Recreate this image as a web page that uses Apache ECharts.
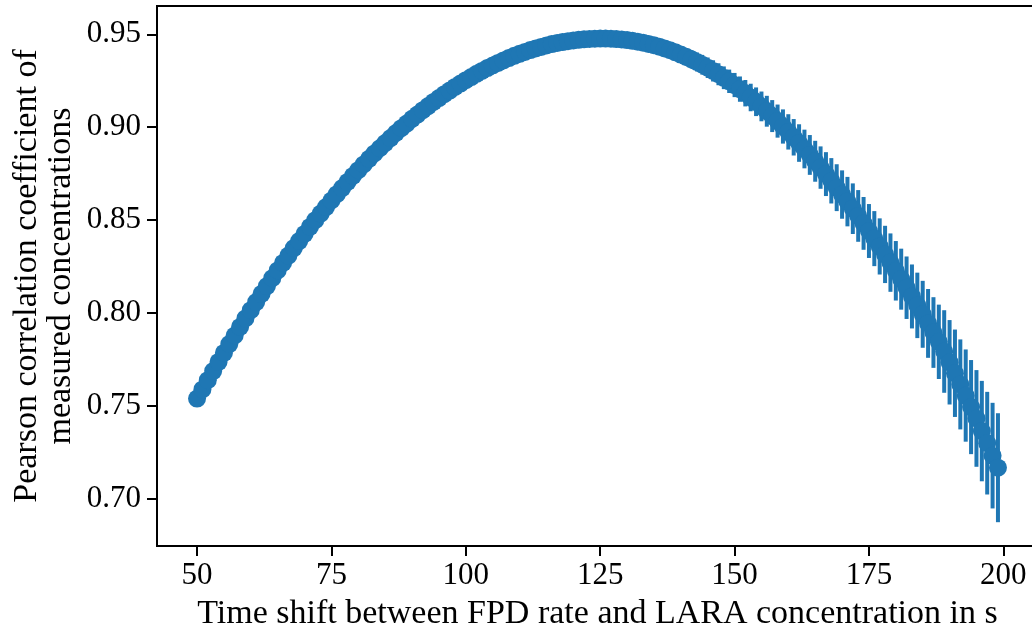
<!DOCTYPE html>
<html>
<head>
<meta charset="utf-8">
<script src="https://cdn.jsdelivr.net/npm/echarts@6/dist/echarts.min.js"></script>
<style>
html,body{margin:0;padding:0;background:#fff;}
#chart{width:1032px;height:632px;}
</style>
</head>
<body>
<div id="chart"></div>
<script>
// Time shift in s
const timeShift = [
 50,51,52,53,54,55,56,57,58,59,60,61,62,63,64,65,66,67,68,69,
 70,71,72,73,74,75,76,77,78,79,80,81,82,83,84,85,86,87,88,89,
 90,91,92,93,94,95,96,97,98,99,100,101,102,103,104,105,106,107,108,109,
 110,111,112,113,114,115,116,117,118,119,120,121,122,123,124,125,126,127,128,129,
 130,131,132,133,134,135,136,137,138,139,140,141,142,143,144,145,146,147,148,149,
 150,151,152,153,154,155,156,157,158,159,160,161,162,163,164,165,166,167,168,169,
 170,171,172,173,174,175,176,177,178,179,180,181,182,183,184,185,186,187,188,189,
 190,191,192,193,194,195,196,197,198,199
];
// Pearson correlation coefficient
const pearson = [
 0.7541,0.7590,0.7640,0.7689,0.7738,0.7786,0.7834,0.7880,0.7926,0.7972,
 0.8016,0.8060,0.8104,0.8146,0.8188,0.8230,0.8270,0.8310,0.8350,0.8388,
 0.8426,0.8464,0.8500,0.8536,0.8571,0.8606,0.8640,0.8673,0.8706,0.8738,
 0.8769,0.8800,0.8830,0.8859,0.8887,0.8915,0.8942,0.8969,0.8995,0.9020,
 0.9045,0.9068,0.9092,0.9114,0.9136,0.9157,0.9178,0.9197,0.9217,0.9235,
 0.9253,0.9270,0.9287,0.9303,0.9318,0.9332,0.9346,0.9359,0.9372,0.9384,
 0.9395,0.9405,0.9415,0.9424,0.9432,0.9440,0.9447,0.9453,0.9458,0.9463,
 0.9467,0.9470,0.9473,0.9475,0.9476,0.9477,0.9477,0.9476,0.9474,0.9472,
 0.9469,0.9465,0.9460,0.9455,0.9448,0.9441,0.9433,0.9424,0.9414,0.9403,
 0.9391,0.9379,0.9365,0.9351,0.9336,0.9320,0.9303,0.9285,0.9266,0.9247,
 0.9227,0.9205,0.9183,0.9160,0.9137,0.9112,0.9086,0.9060,0.9033,0.9004,
 0.8975,0.8946,0.8915,0.8883,0.8851,0.8817,0.8783,0.8748,0.8712,0.8675,
 0.8638,0.8600,0.8562,0.8523,0.8483,0.8442,0.8401,0.8359,0.8316,0.8272,
 0.8228,0.8183,0.8137,0.8090,0.8042,0.7994,0.7945,0.7896,0.7846,0.7794,
 0.7736,0.7677,0.7617,0.7557,0.7495,0.7434,0.7366,0.7301,0.7234,0.7169
];
// Uncertainty of the coefficient
const pearsonErr = [
 0.0015,0.0015,0.0015,0.0015,0.0015,0.0015,0.0015,0.0015,0.0015,0.0015,
 0.0015,0.0015,0.0015,0.0015,0.0015,0.0015,0.0015,0.0015,0.0015,0.0015,
 0.0018,0.0018,0.0018,0.0018,0.0018,0.0018,0.0018,0.0018,0.0018,0.0018,
 0.0018,0.0018,0.0018,0.0018,0.0018,0.0018,0.0018,0.0018,0.0018,0.0018,
 0.0021,0.0021,0.0021,0.0021,0.0021,0.0021,0.0021,0.0021,0.0021,0.0021,
 0.0021,0.0021,0.0021,0.0021,0.0021,0.0021,0.0021,0.0021,0.0021,0.0021,
 0.0025,0.0025,0.0025,0.0025,0.0025,0.0025,0.0025,0.0025,0.0025,0.0025,
 0.0030,0.0030,0.0030,0.0030,0.0030,0.0030,0.0030,0.0030,0.0030,0.0030,
 0.0035,0.0035,0.0035,0.0035,0.0035,0.0040,0.0040,0.0040,0.0040,0.0040,
 0.0045,0.0047,0.0049,0.0051,0.0053,0.0055,0.0057,0.0059,0.0061,0.0063,
 0.0065,0.0068,0.0071,0.0074,0.0077,0.0080,0.0083,0.0086,0.0089,0.0092,
 0.0095,0.0098,0.0101,0.0104,0.0107,0.0110,0.0114,0.0118,0.0122,0.0126,
 0.0130,0.0133,0.0136,0.0139,0.0142,0.0145,0.0148,0.0151,0.0154,0.0157,
 0.0160,0.0164,0.0168,0.0172,0.0176,0.0180,0.0185,0.0190,0.0200,0.0222,
 0.0227,0.0235,0.0242,0.0248,0.0253,0.0260,0.0270,0.0276,0.0284,0.0293
];
const xTicks = [50, 75, 100, 125, 150, 175, 200];
const yTicks = [0.70, 0.75, 0.80, 0.85, 0.90, 0.95];

const points = timeShift.map((t, i) => [t, pearson[i], pearsonErr[i]]);
const blue = '#1f77b4';
const font = '"Liberation Serif", "DejaVu Serif", serif';

const chart = echarts.init(document.getElementById('chart'), null, {renderer: 'canvas'});
chart.setOption({
  animation: false,
  backgroundColor: '#fff',
  grid: {
    left: 157, top: 6, width: 881, height: 540,
    containLabel: false, outerBoundsMode: 'none',
    show: true, borderColor: '#000', borderWidth: 2, backgroundColor: 'transparent'
  },
  xAxis: {
    type: 'value', min: 42.55, max: 206.45,
    name: 'Time shift between FPD rate and LARA concentration in s',
    nameLocation: 'middle', nameGap: 51, nameMoveOverlap: false,
    nameTextStyle: {fontFamily: font, fontSize: 34, color: '#000'},
    axisLine: {show: false},
    splitLine: {show: false},
    axisTick: {show: true, customValues: xTicks, length: 10, inside: false,
      lineStyle: {color: '#000', width: 2}},
    axisLabel: {customValues: xTicks, fontFamily: font, fontSize: 31, color: '#000', margin: 14}
  },
  yAxis: {
    type: 'value', min: 0.6748, max: 0.9652,
    name: 'Pearson correlation coefficient of\nmeasured concentrations',
    nameLocation: 'middle', nameGap: 79, nameRotate: 90, nameMoveOverlap: false,
    nameTextStyle: {fontFamily: font, fontSize: 34, color: '#000', lineHeight: 34, align: 'center'},
    axisLine: {show: false},
    splitLine: {show: false},
    axisTick: {show: true, customValues: yTicks, length: 10,
      lineStyle: {color: '#000', width: 2}},
    axisLabel: {customValues: yTicks, fontFamily: font, fontSize: 31, color: '#000', margin: 16,
      formatter: v => v.toFixed(2)}
  },
  series: [
    {
      type: 'custom',
      data: points,
      encode: {x: 0, y: 1},
      clip: false,
      z: 2,
      renderItem: function (params, api) {
        const x = api.value(0), y = api.value(1), e = api.value(2);
        const p1 = api.coord([x, y - e]);
        const p2 = api.coord([x, y + e]);
        return {
          type: 'line',
          shape: {x1: p1[0], y1: p1[1], x2: p2[0], y2: p2[1]},
          style: {stroke: blue, lineWidth: 4}
        };
      }
    },
    {
      type: 'scatter',
      data: points,
      symbol: 'circle',
      symbolSize: 18,
      itemStyle: {color: blue, opacity: 1},
      z: 3
    }
  ]
});
</script>
</body>
</html>
